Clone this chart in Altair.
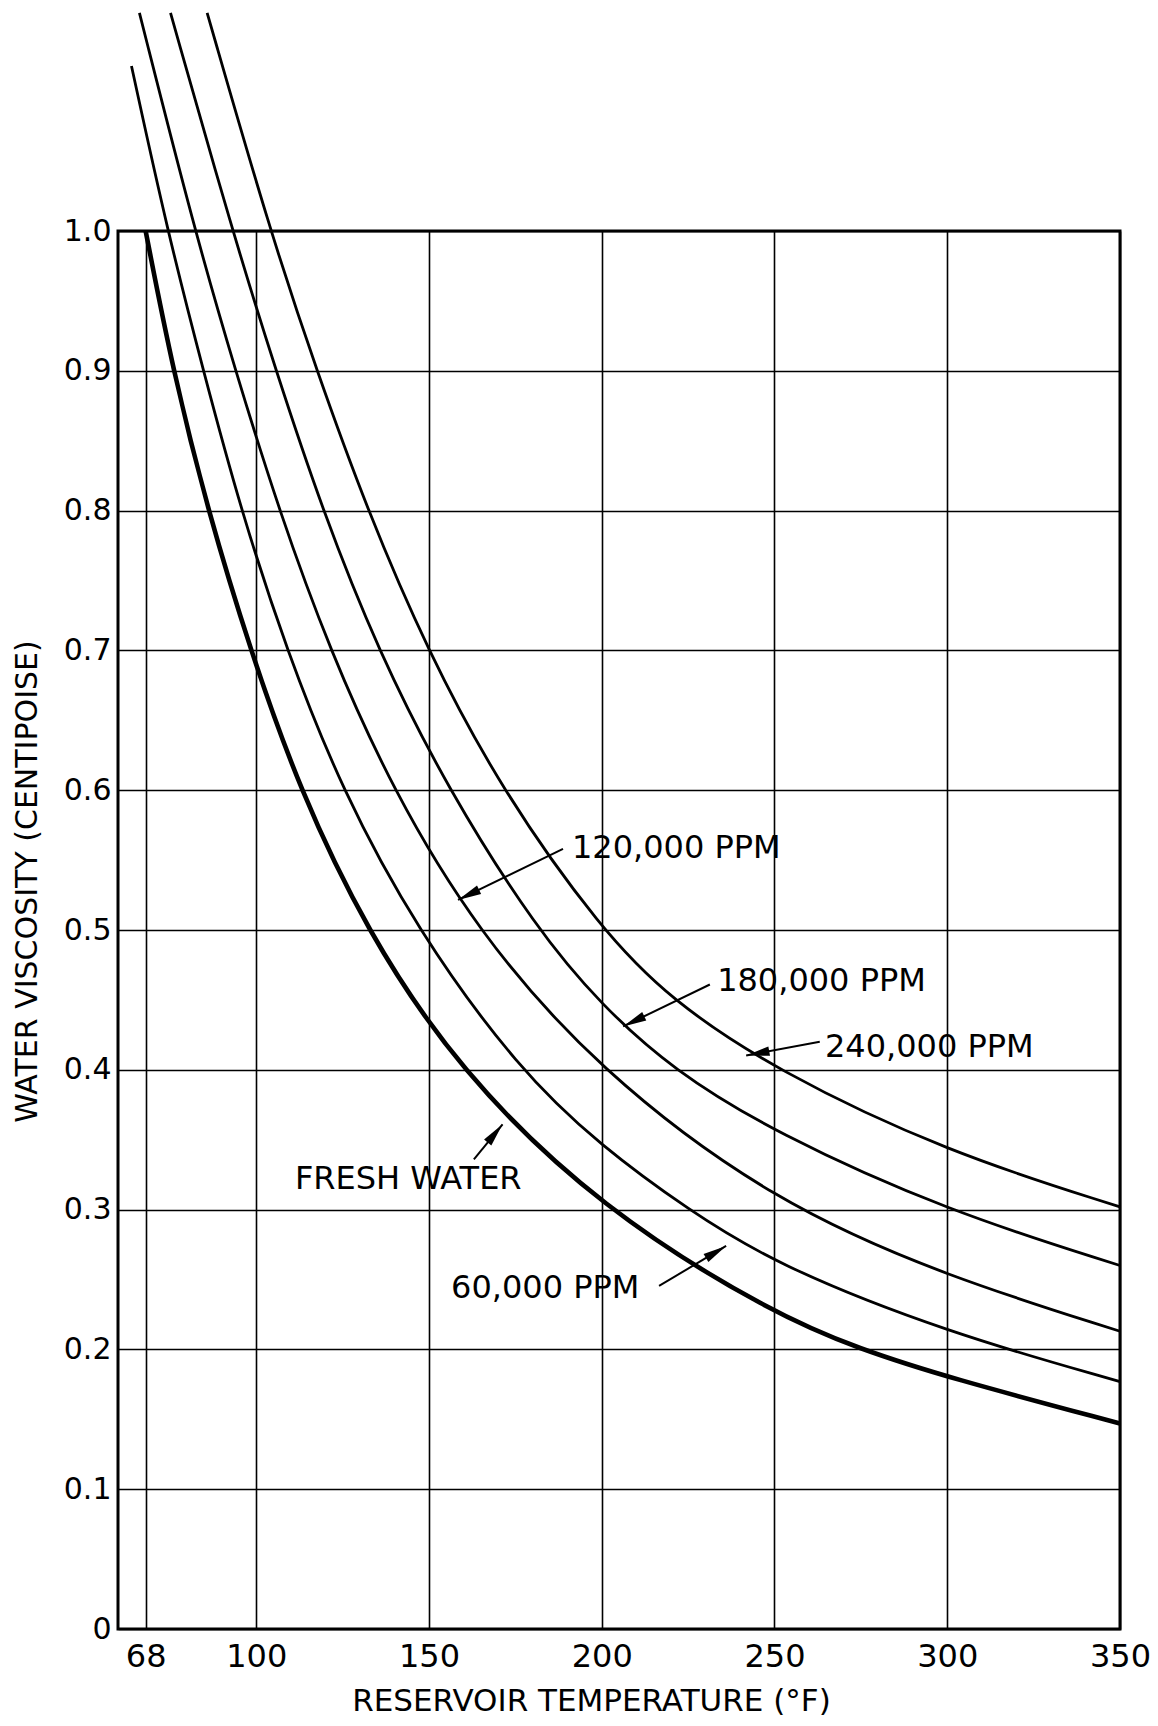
import altair as alt
import pandas as pd
import numpy as np

# ---------------- data ----------------
series_names = ["FRESH WATER", "60,000 PPM", "120,000 PPM", "180,000 PPM", "240,000 PPM"]

fresh_t = [68, 75.9, 86, 98.3, 112.6, 131.8, 158.4, 200, 250, 275, 300, 350]
fresh_v = [1.0, 0.9, 0.8, 0.7, 0.6, 0.5, 0.4, 0.3, 0.225, 0.2, 0.18, 0.147]

p60_t = [63.9, 74.3, 84.7, 95.6, 108.8, 124.8, 146.5, 176, 200, 225, 250, 300, 350]
p60_v = [1.118, 1.0, 0.9, 0.8, 0.7, 0.6, 0.5, 0.4, 0.345, 0.3, 0.261, 0.212, 0.177]

p120_t = [66.2, 82.2, 94, 106.6, 121.3, 139.5, 163.6, 198.7, 250, 300, 350]
p120_v = [1.156, 1.0, 0.9, 0.8, 0.7, 0.6, 0.5, 0.4, 0.305, 0.252, 0.213]

p180_t = [75.2, 93.1, 105.7, 119.2, 135.2, 155.6, 181.3, 200, 220.6, 250, 300, 350]
p180_v = [1.156, 1.0, 0.9, 0.8, 0.7, 0.6, 0.5, 0.446, 0.4, 0.355, 0.299, 0.26]

p240_t = [85.8, 104, 117.5, 132.2, 149.5, 171.0, 199.9, 220, 250, 300, 350]
p240_v = [1.156, 1.0, 0.9, 0.8, 0.7, 0.6, 0.5, 0.450, 0.4, 0.341, 0.302]

x_ticks = [68, 100, 150, 200, 250, 300, 350]
y_ticks = [0, 0.1, 0.2, 0.3, 0.4, 0.5, 0.6, 0.7, 0.8, 0.9, 1.0]

# annotation labels: text position, arrow tail, arrow head (data units)
label_text = ["120,000 PPM", "180,000 PPM", "240,000 PPM", "FRESH WATER", "60,000 PPM"]
label_t = [191.4, 233.4, 264.6, 111.2, 156.4]
label_v = [0.5587, 0.4637, 0.4163, 0.322, 0.244]
tail_t = [188.8, 231.3, 263.1, 163.0, 216.6]
tail_v = [0.558, 0.461, 0.420, 0.336, 0.2454]
head_t = [158.4, 206.2, 241.8, 171.3, 236.0]
head_v = [0.5215, 0.431, 0.4103, 0.361, 0.274]

# ---------------- layout ----------------
W, H = 1002, 1398
X_DOM = [60, 350]
Y_DOM = [0, 1.0]

rows = []
for name, ts, vs in zip(series_names,
                        [fresh_t, p60_t, p120_t, p180_t, p240_t],
                        [fresh_v, p60_v, p120_v, p180_v, p240_v]):
    for t, v in zip(ts, vs):
        rows.append({"series": name, "t": t, "v": v})
curves = pd.DataFrame(rows)

px_per_t = W / (X_DOM[1] - X_DOM[0])
px_per_v = H / (Y_DOM[1] - Y_DOM[0])
angles = []
for tt, tv, ht, hv in zip(tail_t, tail_v, head_t, head_v):
    dx = (ht - tt) * px_per_t
    dy = -(hv - tv) * px_per_v
    angles.append(float(np.degrees(np.arctan2(dx, -dy)) % 360))

ann = pd.DataFrame({
    "text": label_text, "lt": label_t, "lv": label_v,
    "tt": tail_t, "tv": tail_v, "ht": head_t, "hv": head_v, "ang": angles,
})

FONT = "DejaVu Sans"

xscale = alt.Scale(domain=X_DOM, nice=False, zero=False)
yscale = alt.Scale(domain=Y_DOM, nice=False)

x_axis = alt.Axis(values=x_ticks, title="RESERVOIR TEMPERATURE (°F)",
                  grid=True, gridColor="black", gridWidth=1.6, gridOpacity=1,
                  domain=False, ticks=False, labelFontSize=32, labelFont=FONT,
                  labelColor="black", labelPadding=12, labelFlush=False,
                  titleFont=FONT, titleFontSize=31, titleFontWeight="normal",
                  titleColor="black", titleX=473, titleY=72,
                  titleBaseline="middle", titleAlign="center")
y_axis = alt.Axis(values=y_ticks, title="WATER VISCOSITY (CENTIPOISE)",
                  labelExpr="datum.value == 0 ? '0' : format(datum.value, '.1f')",
                  grid=True, gridColor="black", gridWidth=1.6, gridOpacity=1,
                  domain=False, ticks=False, labelFontSize=30, labelFont=FONT,
                  labelColor="black", labelPadding=7,
                  titleFont=FONT, titleFontSize=30, titleFontWeight="normal",
                  titleColor="black", titleX=-91, titleY=650, titleAngle=270,
                  titleBaseline="middle", titleAlign="center")

base = alt.Chart(curves)

fresh_line = base.transform_filter(alt.datum.series == series_names[0]).mark_line(
    interpolate="basis", color="black", strokeWidth=4.6
).encode(
    x=alt.X("t:Q", scale=xscale, axis=x_axis),
    y=alt.Y("v:Q", scale=yscale, axis=y_axis),
    detail="series:N",
)

brine_lines = base.transform_filter(alt.datum.series != series_names[0]).mark_line(
    interpolate="basis", color="black", strokeWidth=2.8
).encode(
    x=alt.X("t:Q", scale=xscale),
    y=alt.Y("v:Q", scale=yscale),
    detail="series:N",
)

shafts = alt.Chart(ann).mark_rule(color="black", strokeWidth=2).encode(
    x=alt.X("tt:Q", scale=xscale), y=alt.Y("tv:Q", scale=yscale),
    x2="ht:Q", y2="hv:Q",
)

heads = alt.Chart(ann).mark_point(
    shape="M0,0 L0.34,1.7 L-0.34,1.7 Z", filled=True, color="black",
    opacity=1, size=760,
).encode(
    x=alt.X("ht:Q", scale=xscale), y=alt.Y("hv:Q", scale=yscale),
    angle=alt.Angle("ang:Q", scale=None),
)

labels = alt.Chart(ann).mark_text(
    align="left", baseline="middle", font=FONT, fontSize=32, color="black",
).encode(
    x=alt.X("lt:Q", scale=xscale), y=alt.Y("lv:Q", scale=yscale), text="text:N",
)

chart = alt.layer(fresh_line, brine_lines, shafts, heads, labels).properties(
    width=W, height=H,
    autosize=alt.AutoSizeParams(type="none"),
    padding={"left": 110, "top": 223, "right": 30, "bottom": 88},
    background="white",
).configure_view(stroke="black", strokeWidth=3)

chart.save("out.html", embed_options={"renderer": "svg", "actions": False})
